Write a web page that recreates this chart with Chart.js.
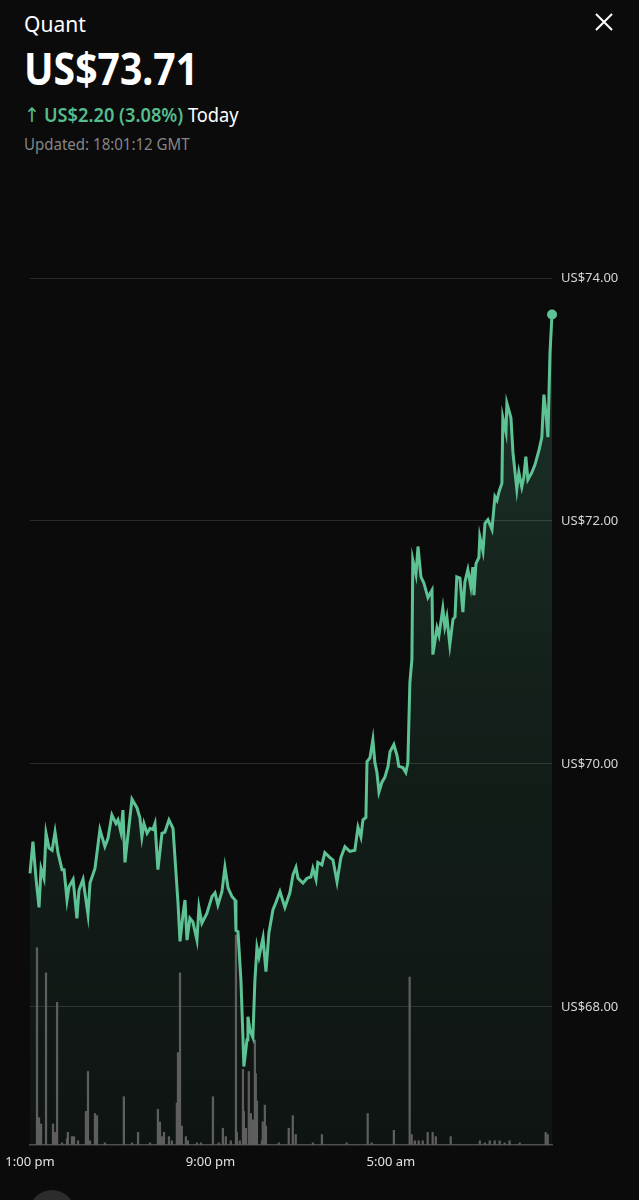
<!DOCTYPE html>
<html>
<head>
<meta charset="utf-8">
<script src="https://cdn.jsdelivr.net/npm/chart.js@4.4.1/dist/chart.umd.min.js"></script>
<style>
  html, body { margin: 0; padding: 0; background: #0b0b0b; }
  body { width: 639px; height: 1200px; position: relative; overflow: hidden; font-family: "Noto Sans", sans-serif; color: #fff; }
  .hdr { position: absolute; left: 24px; line-height: 1; white-space: nowrap; transform-origin: 0 0; }
  .name { top: 14px; font-size: 21px; }
  .price { top: 45px; font-size: 45px; font-weight: 700; transform: scaleX(0.87); }
  .change { top: 105px; font-size: 19px; transform: scaleX(0.96); }
  .change .arr { color: #56bd8e; font-family: "DejaVu Sans", sans-serif; font-size: 20px; margin-right: 4px; }
  .change .up { color: #56bd8e; font-weight: 600; }
  .updated { top: 136px; font-size: 16px; color: #858585; transform: scaleX(0.94); }
  .close { position: absolute; left: 594px; top: 12px; }
  .btn { position: absolute; left: 29px; top: 1190px; width: 46px; height: 46px; border-radius: 50%; background: #2c2c2c; }
  #wrap { position: absolute; left: 0; top: 0; width: 639px; height: 1200px; }
</style>
</head>
<body>
<div class="hdr name">Quant</div>
<div class="hdr price">US$73.71</div>
<div class="hdr change"><span class="arr">↑</span><span class="up">US$2.20 (3.08%)</span> Today</div>
<div class="hdr updated">Updated: 18:01:12 GMT</div>
<svg class="close" width="20" height="20" viewBox="0 0 20 20">
  <path d="M2 2 L18 18 M18 2 L2 18" stroke="#fff" stroke-width="2" fill="none"/>
</svg>
<div id="wrap"><canvas id="priceChart" width="639" height="1200"></canvas></div>
<div class="btn"></div>

<script>
// hours after 1:00 pm
const times = [
  0.00, 0.13, 0.27, 0.40, 0.49, 0.62, 0.71, 0.84, 0.98, 1.11, 1.24, 1.42, 1.51, 1.64, 1.73, 1.91,
  2.08, 2.17, 2.35, 2.57, 2.66, 2.88, 3.10, 3.32, 3.46, 3.63, 3.81, 3.90, 4.03, 4.12, 4.21, 4.52,
  4.74, 4.87, 4.96, 5.05, 5.19, 5.32, 5.45, 5.54, 5.67, 5.85, 5.98, 6.16, 6.34, 6.56, 6.65, 6.78,
  6.87, 6.96, 7.09, 7.22, 7.40, 7.49, 7.62, 7.84, 8.07, 8.20, 8.33, 8.51, 8.64, 8.78, 8.95, 9.09,
  9.13, 9.22, 9.35, 9.44, 9.48, 9.62, 9.66, 9.75, 9.88, 9.97, 10.06, 10.15, 10.33, 10.46, 10.59, 10.77,
  10.90, 11.08, 11.30, 11.52, 11.66, 11.79, 11.88, 12.10, 12.28, 12.45, 12.54, 12.68, 12.76, 12.94, 13.07, 13.30,
  13.43, 13.61, 13.78, 13.96, 14.18, 14.40, 14.54, 14.67, 14.76, 14.89, 14.94, 15.07, 15.20, 15.29, 15.38, 15.47,
  15.60, 15.73, 15.87, 15.96, 16.13, 16.27, 16.35, 16.53, 16.66, 16.75, 16.84, 16.93, 16.97, 17.11, 17.20, 17.33,
  17.46, 17.64, 17.82, 17.86, 18.04, 18.13, 18.30, 18.39, 18.48, 18.61, 18.75, 18.84, 18.92, 19.06, 19.19, 19.28,
  19.41, 19.54, 19.63, 19.68, 19.77, 19.90, 19.94, 20.08, 20.17, 20.30, 20.48, 20.61, 20.70, 20.79, 20.92, 20.96,
  21.10, 21.14, 21.32, 21.41, 21.58, 21.67, 21.80, 21.89, 21.98, 22.07, 22.25, 22.38, 22.56, 22.69, 22.78, 22.87,
  22.96, 23.05, 23.14
];
const prices = [
  69.10, 69.36, 69.05, 68.82, 69.14, 69.06, 69.43, 69.31, 69.29, 69.44, 69.27, 69.13, 69.13, 68.88, 68.99, 69.05,
  68.73, 68.96, 69.05, 68.76, 69.02, 69.14, 69.46, 69.32, 69.39, 69.58, 69.51, 69.54, 69.44, 69.62, 69.19, 69.71,
  69.64, 69.56, 69.40, 69.51, 69.43, 69.47, 69.46, 69.51, 69.13, 69.43, 69.44, 69.54, 69.47, 68.86, 68.54, 68.76,
  68.88, 68.55, 68.73, 68.70, 68.55, 68.82, 68.69, 68.77, 68.91, 68.94, 68.84, 68.95, 69.15, 68.98, 68.91, 68.88,
  68.63, 68.62, 68.22, 67.75, 67.51, 67.73, 67.92, 67.81, 67.75, 68.22, 68.49, 68.41, 68.57, 68.29, 68.61, 68.80,
  68.86, 68.95, 68.82, 68.94, 69.09, 69.15, 69.06, 69.02, 69.06, 69.07, 69.14, 69.05, 69.19, 69.17, 69.27, 69.23,
  69.21, 69.03, 69.23, 69.32, 69.28, 69.29, 69.48, 69.40, 69.54, 69.56, 70.02, 70.05, 70.20, 70.01, 69.93, 69.77,
  69.85, 69.89, 69.98, 70.10, 70.16, 70.07, 69.98, 69.97, 69.93, 70.01, 70.67, 70.86, 71.68, 71.56, 71.79, 71.54,
  71.49, 71.37, 71.43, 70.90, 71.12, 71.06, 71.28, 71.13, 71.21, 70.98, 71.19, 71.21, 71.54, 71.53, 71.25, 71.50,
  71.60, 71.46, 71.62, 71.39, 71.65, 71.70, 71.87, 71.75, 71.98, 72.01, 71.93, 72.20, 72.17, 72.24, 72.31, 72.85,
  72.73, 72.97, 72.85, 72.56, 72.26, 72.40, 72.28, 72.36, 72.53, 72.34, 72.40, 72.46, 72.58, 72.69, 73.04, 72.89,
  72.69, 73.38, 73.70
];
const volTimes = [
  0.31, 0.40, 0.49, 0.71, 1.02, 1.11, 1.20, 1.42, 1.64, 1.68, 1.86, 1.95, 2.13, 2.48, 2.57, 2.66,
  2.88, 2.97, 3.32, 4.16, 4.52, 4.79, 5.32, 5.67, 5.76, 5.85, 5.94, 6.16, 6.29, 6.51, 6.56, 6.65,
  6.73, 6.91, 7.00, 7.40, 7.58, 8.11, 8.37, 8.55, 8.68, 8.90, 9.13, 9.17, 9.30, 9.44, 9.48, 9.57,
  9.70, 9.79, 9.88, 9.97, 10.01, 10.06, 10.28, 10.32, 10.41, 10.46, 11.03, 11.47, 11.65, 11.78, 12.54, 12.94,
  14.04, 14.97, 15.15, 16.13, 16.83, 16.92, 17.06, 17.23, 17.41, 17.63, 17.85, 17.99, 18.65, 19.94, 20.16, 20.38,
  20.60, 20.82, 21.04, 21.26, 21.71, 22.86, 22.95
];
const volumes = [
  94, 13, 10, 82, 10, 6, 68, 1, 3, 6, 4, 4, 2, 16, 35, 2,
  15, 14, 1, 23, 1, 6, 1, 17, 11, 4, 6, 4, 2, 20, 44, 82,
  9, 4, 2, 1, 1, 23, 1, 8, 4, 2, 100, 6, 2, 36, 16, 8,
  35, 15, 12, 50, 34, 21, 2, 11, 19, 9, 1, 8, 14, 5, 1, 5,
  1, 15, 1, 7, 80, 5, 2, 2, 2, 6, 6, 4, 4, 2, 1, 2,
  2, 2, 1, 2, 1, 6, 5
];
const priceTicks = [68, 70, 72, 74];
const timeTicks = [0, 8, 16];
const timeLabels = ['1:00 pm', '9:00 pm', '5:00 am'];

const lineColor = '#5ec394';

const ctx = document.getElementById('priceChart').getContext('2d');
new Chart(ctx, {
  type: 'line',
  data: {
    datasets: [{
      type: 'line',
      data: times.map((t, i) => ({ x: t, y: prices[i] })),
      borderColor: lineColor,
      borderWidth: 3,
      tension: 0,
      fill: 'start',
      backgroundColor: (c) => {
        const area = c.chart.chartArea;
        if (!area) return 'rgba(90,200,150,0.1)';
        const g = c.chart.ctx.createLinearGradient(0, area.top, 0, area.bottom);
        g.addColorStop(0, 'rgba(90,200,150,0.22)');
        g.addColorStop(0.5, 'rgba(90,200,150,0.11)');
        g.addColorStop(1, 'rgba(90,200,150,0.05)');
        return g;
      },
      pointRadius: (c) => c.dataIndex === prices.length - 1 ? 5 : 0,
      pointBackgroundColor: lineColor,
      pointBorderWidth: 0,
      clip: false,
      yAxisID: 'y',
      order: 1
    }, {
      type: 'bar',
      data: volTimes.map((t, i) => ({ x: t, y: volumes[i] })),
      backgroundColor: '#5e5e5e',
      barThickness: 1.6,
      yAxisID: 'vol',
      order: 2
    }]
  },
  options: {
    responsive: false,
    animation: false,
    devicePixelRatio: 1,
    events: [],
    layout: { padding: { left: 30, top: 278, right: 0, bottom: 0 } },
    plugins: {
      legend: { display: false },
      tooltip: { enabled: false },
      filler: { drawTime: 'beforeDatasetsDraw' }
    },
    scales: {
      x: {
        type: 'linear',
        offset: false,
        min: 0,
        max: 23.14,
        afterBuildTicks: (s) => { s.ticks = timeTicks.map(v => ({ value: v })); },
        afterFit: (s) => { s.height = 55; s.paddingLeft = 0; s.paddingRight = 0; },
        grid: { display: false, drawTicks: false, offset: false },
        border: { display: true, color: '#4a4a4a', width: 1.5 },
        ticks: {
          autoSkip: false,
          maxRotation: 0,
          padding: 9,
          color: '#e2e2e2',
          font: { family: 'Noto Sans', size: 13 },
          callback: (v) => timeLabels[timeTicks.indexOf(v)]
        }
      },
      y: {
        position: 'right',
        min: 66.864,
        max: 74,
        afterBuildTicks: (s) => { s.ticks = priceTicks.map(v => ({ value: v })); },
        afterFit: (s) => { s.width = 87; },
        grid: { color: 'rgba(255,255,255,0.13)', lineWidth: 1, drawTicks: false },
        border: { display: false },
        ticks: {
          padding: 9,
          color: '#d6d6d6',
          font: { family: 'Noto Sans', size: 13 },
          callback: (v) => 'US$' + v.toFixed(2)
        }
      },
      vol: {
        display: false,
        min: 0,
        max: 413
      }
    }
  }
});
</script>
</body>
</html>
